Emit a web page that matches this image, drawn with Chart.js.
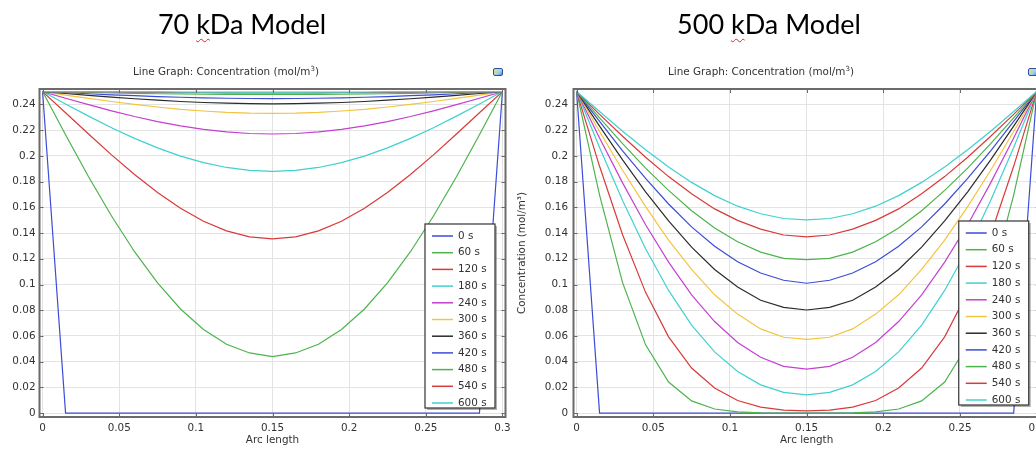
<!DOCTYPE html>
<html>
<head>
<meta charset="utf-8">
<script src="https://cdn.jsdelivr.net/npm/chart.js@4.4.1/dist/chart.umd.min.js"></script>
<style>
  html, body { margin: 0; padding: 0; background: #fff; }
  #page { position: relative; width: 1036px; height: 451px; overflow: hidden; font-family: 'DejaVu Sans', sans-serif; }
  .wrap { position: absolute; top: 0; height: 451px; }
  .model { position: absolute; top: 10px; width: 300px; text-align: center; font-family: Lato, 'Open Sans', sans-serif; font-size: 27px; line-height: 27px; color: #000; }
  .model .k { text-decoration: underline wavy #d42a2a; text-decoration-thickness: 1px; text-underline-offset: 4px; }
  .sub { position: absolute; top: 65px; width: 300px; text-align: center; font-size: 10.4px; line-height: 13px; color: #333; }
  .sub sup { font-size: 7px; vertical-align: 4px; line-height: 0; }
  .icon { position: absolute; top: 68px; width: 8px; height: 6px; border: 1.5px solid #2d4f9c; border-radius: 2px;
          background: linear-gradient(135deg, #f3e35c 0%, #9fd0f0 60%, #4b8fd8 100%); }
</style>
</head>
<body>
<div id="page">
  <div class="wrap" style="left:0; width:520px;"><canvas id="chart70"></canvas></div>
  <div class="wrap" style="left:510px; width:540px;"><canvas id="chart500"></canvas></div>

  <div class="model" style="left:92px;">70 <span class="k">k</span>Da Model</div>
  <div class="model" style="left:619px;">500 <span class="k">k</span>Da Model</div>

  <div class="sub" style="left:76px;">Line Graph: Concentration (mol/m<sup>3</sup>)</div>
  <div class="sub" style="left:611px;">Line Graph: Concentration (mol/m<sup>3</sup>)</div>

  <div class="icon" style="left:493px;"></div>
  <div class="icon" style="left:1028px;"></div>
</div>

<script>
// ===== data =====
const arcLength = [0, 0.015, 0.03, 0.045, 0.06, 0.075, 0.09, 0.105, 0.12, 0.135, 0.15,
                   0.165, 0.18, 0.195, 0.21, 0.225, 0.24, 0.255, 0.27, 0.285, 0.3];
const timeLabels = ['0 s', '60 s', '120 s', '180 s', '240 s', '300 s', '360 s', '420 s', '480 s', '540 s', '600 s'];
const seriesColors = ['#3b4cd6', '#4db34d', '#d93a3a', '#40d0d0', '#c440d0', '#f2c440',
                      '#2b2b2b', '#3b4cd6', '#4db34d', '#d93a3a', '#40d0d0'];
const xTickValues = [0, 0.05, 0.1, 0.15, 0.2, 0.25, 0.3];
const yTickValues = [0, 0.02, 0.04, 0.06, 0.08, 0.1, 0.12, 0.14, 0.16, 0.18, 0.2, 0.22, 0.24];

// 70 kDa model
const c70_0s   = [0.25,0,0,0,0,0,0,0,0,0,0,0,0,0,0,0,0,0,0,0,0.25];
const c70_60s  = [0.25,0.2164,0.1838,0.1533,0.1255,0.1013,0.0810,0.0651,0.0536,0.0468,0.0439,0.0468,0.0536,0.0651,0.0810,0.1013,0.1255,0.1533,0.1838,0.2164,0.25];
const c70_120s = [0.25,0.2335,0.2170,0.2008,0.1855,0.1715,0.1593,0.1492,0.1417,0.1370,0.1355,0.1370,0.1417,0.1492,0.1593,0.1715,0.1855,0.2008,0.2170,0.2335,0.25];
const c70_180s = [0.25,0.2404,0.2309,0.2219,0.2136,0.2062,0.1998,0.1948,0.1910,0.1888,0.1880,0.1888,0.1910,0.1948,0.1998,0.2062,0.2136,0.2219,0.2309,0.2404,0.25];
const c70_240s = [0.25,0.2448,0.2398,0.2350,0.2306,0.2267,0.2233,0.2206,0.2186,0.2174,0.2170,0.2174,0.2186,0.2206,0.2233,0.2267,0.2306,0.2350,0.2398,0.2448,0.25];
const c70_300s = [0.25,0.2473,0.2447,0.2423,0.2400,0.2380,0.2362,0.2349,0.2338,0.2332,0.2330,0.2332,0.2338,0.2349,0.2362,0.2380,0.2400,0.2423,0.2447,0.2473,0.25];
const c70_360s = [0.25,0.2485,0.2471,0.2457,0.2444,0.2433,0.2423,0.2415,0.2410,0.2406,0.2405,0.2406,0.2410,0.2415,0.2423,0.2433,0.2444,0.2457,0.2471,0.2485,0.25];
const c70_420s = [0.25,0.2491,0.2483,0.2475,0.2468,0.2461,0.2456,0.2451,0.2448,0.2446,0.2445,0.2446,0.2448,0.2451,0.2456,0.2461,0.2468,0.2475,0.2483,0.2491,0.25];
const c70_480s = [0.25,0.2497,0.2493,0.2489,0.2486,0.2483,0.2481,0.2479,0.2478,0.2478,0.2478,0.2478,0.2478,0.2479,0.2481,0.2483,0.2486,0.2489,0.2493,0.2497,0.25];
const c70_540s = [0.25,0.2498,0.2497,0.2495,0.2494,0.2493,0.2492,0.2491,0.2490,0.2489,0.2489,0.2489,0.2490,0.2491,0.2492,0.2493,0.2494,0.2495,0.2497,0.2498,0.25];
const c70_600s = [0.25,0.2499,0.2499,0.2498,0.2497,0.2497,0.2496,0.2496,0.2495,0.2495,0.2495,0.2495,0.2495,0.2496,0.2496,0.2497,0.2497,0.2498,0.2499,0.2499,0.25];

// 500 kDa model
const c500_0s   = [0.25,0,0,0,0,0,0,0,0,0,0,0,0,0,0,0,0,0,0,0,0.25];
const c500_60s  = [0.25,0.1695,0.1015,0.0531,0.0242,0.0095,0.0032,0.0010,0.0002,0,0,0,0.0002,0.0010,0.0032,0.0095,0.0242,0.0531,0.1015,0.1695,0.25];
const c500_120s = [0.25,0.1919,0.1387,0.0939,0.0593,0.0351,0.0195,0.0098,0.0047,0.0023,0.0017,0.0023,0.0047,0.0098,0.0195,0.0351,0.0593,0.0939,0.1387,0.1919,0.25];
const c500_180s = [0.25,0.2066,0.1653,0.1278,0.0954,0.0685,0.0476,0.0324,0.0220,0.0161,0.0142,0.0161,0.0220,0.0324,0.0476,0.0685,0.0954,0.1278,0.1653,0.2066,0.25];
const c500_240s = [0.25,0.2139,0.1790,0.1465,0.1174,0.0920,0.0712,0.0549,0.0434,0.0364,0.0342,0.0364,0.0434,0.0549,0.0712,0.0920,0.1174,0.1465,0.1790,0.2139,0.25];
const c500_300s = [0.25,0.2190,0.1888,0.1605,0.1345,0.1118,0.0920,0.0770,0.0655,0.0590,0.0573,0.0590,0.0655,0.0770,0.0920,0.1118,0.1345,0.1605,0.1888,0.2190,0.25];
const c500_360s = [0.25,0.2231,0.1969,0.1721,0.1494,0.1291,0.1117,0.0981,0.0878,0.0822,0.0802,0.0822,0.0878,0.0981,0.1117,0.1291,0.1494,0.1721,0.1969,0.2231,0.25];
const c500_420s = [0.25,0.2268,0.2039,0.1825,0.1626,0.1448,0.1297,0.1177,0.1089,0.1033,0.1010,0.1033,0.1089,0.1177,0.1297,0.1448,0.1626,0.1825,0.2039,0.2268,0.25];
const c500_480s = [0.25,0.2296,0.2095,0.1905,0.1732,0.1574,0.1440,0.1333,0.1252,0.1203,0.1193,0.1203,0.1252,0.1333,0.1440,0.1574,0.1732,0.1905,0.2095,0.2296,0.25];
const c500_540s = [0.25,0.2323,0.2153,0.1989,0.1839,0.1705,0.1588,0.1499,0.1431,0.1385,0.1370,0.1385,0.1431,0.1499,0.1588,0.1705,0.1839,0.1989,0.2153,0.2323,0.25];
const c500_600s = [0.25,0.2345,0.2192,0.2048,0.1914,0.1794,0.1691,0.1609,0.1550,0.1513,0.1503,0.1513,0.1550,0.1609,0.1691,0.1794,0.1914,0.2048,0.2192,0.2345,0.25];

const series70 = [c70_0s, c70_60s, c70_120s, c70_180s, c70_240s, c70_300s, c70_360s, c70_420s, c70_480s, c70_540s, c70_600s];
const series500 = [c500_0s, c500_60s, c500_120s, c500_180s, c500_240s, c500_300s, c500_360s, c500_420s, c500_480s, c500_540s, c500_600s];

// ===== plugins =====
Chart.defaults.font.family = "'DejaVu Sans', sans-serif";
Chart.defaults.font.size = 10.4;
Chart.defaults.color = '#333';

// plot frame with inward tick marks
const framePlugin = {
  id: 'frame',
  afterDatasetsDraw(chart) {
    const { ctx, chartArea: a, scales: { x, y } } = chart;
    ctx.save();
    ctx.strokeStyle = '#6b6b6b';
    ctx.lineWidth = 1;
    ctx.beginPath();
    x.ticks.forEach(t => {
      const px = Math.round(x.getPixelForValue(t.value)) + 0.5;
      ctx.moveTo(px, a.top); ctx.lineTo(px, a.top + 4);
      ctx.moveTo(px, a.bottom); ctx.lineTo(px, a.bottom - 4);
    });
    y.ticks.forEach(t => {
      const py = Math.round(y.getPixelForValue(t.value)) + 0.5;
      ctx.moveTo(a.left, py); ctx.lineTo(a.left + 4, py);
      ctx.moveTo(a.right, py); ctx.lineTo(a.right - 4, py);
    });
    ctx.stroke();
    ctx.lineWidth = 2;
    ctx.strokeRect(a.left, a.top, a.right - a.left, a.bottom - a.top);
    ctx.restore();
  }
};

// boxed legend in the lower right of the plot
const legendPlugin = {
  id: 'boxLegend',
  afterDraw(chart, args, opts) {
    const { ctx, chartArea: a } = chart;
    const sets = chart.data.datasets;
    const w = 70, rowH = 16.7, h = 184;
    const bx = a.right - opts.right - w;
    const by = a.bottom - opts.bottom - h;
    ctx.save();
    ctx.fillStyle = 'rgba(0,0,0,0.3)';
    ctx.fillRect(bx + 2, by + 2, w, h);
    ctx.fillStyle = '#fff';
    ctx.fillRect(bx, by, w, h);
    ctx.strokeStyle = '#333';
    ctx.lineWidth = 1.2;
    ctx.strokeRect(bx, by, w, h);
    ctx.font = "10.4px 'DejaVu Sans', sans-serif";
    ctx.textBaseline = 'middle';
    sets.forEach((ds, i) => {
      const cy = by + 12 + i * rowH;
      ctx.strokeStyle = ds.borderColor;
      ctx.lineWidth = 1.5;
      ctx.beginPath();
      ctx.moveTo(bx + 7, cy); ctx.lineTo(bx + 28, cy);
      ctx.stroke();
      ctx.fillStyle = '#333';
      ctx.fillText(ds.label, bx + 33, cy);
    });
    ctx.restore();
  }
};

// ===== charts =====
function makeChart(canvasId, series, opt) {
  return new Chart(document.getElementById(canvasId), {
    type: 'line',
    data: {
      datasets: series.map((vals, i) => ({
        label: timeLabels[i],
        data: arcLength.map((x, j) => ({ x: x, y: vals[j] })),
        borderColor: seriesColors[i],
        borderWidth: 1.2,
        pointRadius: 0,
        tension: 0,
        fill: false,
        order: series.length - i
      }))
    },
    options: {
      responsive: true,
      maintainAspectRatio: false,
      animation: false,
      layout: { padding: { top: 89, right: opt.padRight, bottom: 0, left: 0 } },
      plugins: {
        legend: { display: false },
        tooltip: { enabled: false },
        boxLegend: { right: opt.legRight, bottom: opt.legBottom }
      },
      scales: {
        x: {
          type: 'linear',
          min: -0.002,
          max: 0.302,
          afterBuildTicks: s => { s.ticks = xTickValues.map(v => ({ value: v })); },
          afterFit: s => { s.height = 34; },
          grid: { color: '#e3e3e3', drawTicks: false },
          border: { display: false },
          ticks: { padding: 5, autoSkip: false, maxRotation: 0, callback: v => String(v) },
          title: { display: true, text: 'Arc length', padding: { top: 0, bottom: 4 } }
        },
        y: {
          type: 'linear',
          min: -0.003,
          max: 0.252,
          afterBuildTicks: s => { s.ticks = yTickValues.map(v => ({ value: v })); },
          afterFit: s => { s.width = opt.yWidth; },
          grid: { color: '#e3e3e3', drawTicks: false },
          border: { display: false },
          ticks: { padding: opt.yPad, autoSkip: false, callback: v => String(v) },
          title: { display: opt.yTitle, text: 'Concentration (mol/m³)', padding: { top: 6, bottom: 0 } }
        }
      }
    },
    plugins: [framePlugin, legendPlugin]
  });
}

makeChart('chart70', series70, { padRight: 14.5, yWidth: 39.5, yPad: 4, yTitle: false, legRight: 10.5, legBottom: 9 });
makeChart('chart500', series500, { padRight: 9, yWidth: 63.5, yPad: 5.5, yTitle: true, legRight: 11, legBottom: 12 });
</script>
</body>
</html>
